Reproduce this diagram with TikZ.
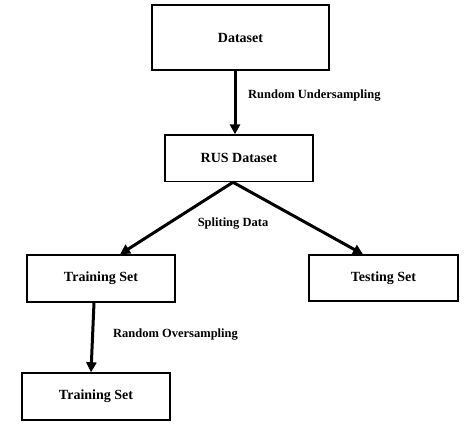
\documentclass[tikz,border=0pt]{standalone}
\usepackage{fontspec}
\setmainfont{Liberation Serif}
\usetikzlibrary{arrows.meta}
\begin{document}
\begin{tikzpicture}[x=1pt,y=1pt,
  box/.style={draw=black,line width=1.4pt,minimum width=#1,inner sep=0pt,font=\fontsize{14}{16}\selectfont\bfseries},
  flow/.style={line width=3pt,-{Triangle[length=10pt,width=10pt]}},
  lbl/.style={font=\fontsize{12.5}{14}\selectfont\bfseries,inner sep=0pt}]
\useasboundingbox (0,0) rectangle (474,426);
\node[box=177pt,minimum height=65pt] (ds) at (240.5,388.5) {Dataset};
\node[box=148pt,minimum height=46.5pt] (rus) at (239,267.7) {RUS Dataset};
\node[box=148pt,minimum height=47pt] (tr1) at (101,147.5) {Training Set};
\node[box=149pt,minimum height=46pt] (te) at (383.5,148) {Testing Set};
\node[box=148pt,minimum height=47pt] (tr2) at (96,29.5) {Training Set};
\coordinate (split) at ([xshift=-6pt]rus.south);
\draw[flow] ([xshift=-5.5pt]ds.south) -- ([xshift=-4pt]rus.north);
\draw[flow] (split) -- ([xshift=19pt]tr1.north);
\draw[flow] (split) -- ([xshift=-20.5pt]te.north);
\draw[flow] ([xshift=-7pt]tr1.south) -- ([xshift=-5pt]tr2.north);
\node[lbl,anchor=west] (l1) at (248,330) {Rundom Undersampling};
\node[lbl] (l2) at (233,202) {Spliting Data};
\node[lbl,anchor=west] (l3) at (113,91) {Random Oversampling};
\end{tikzpicture}
\end{document}
